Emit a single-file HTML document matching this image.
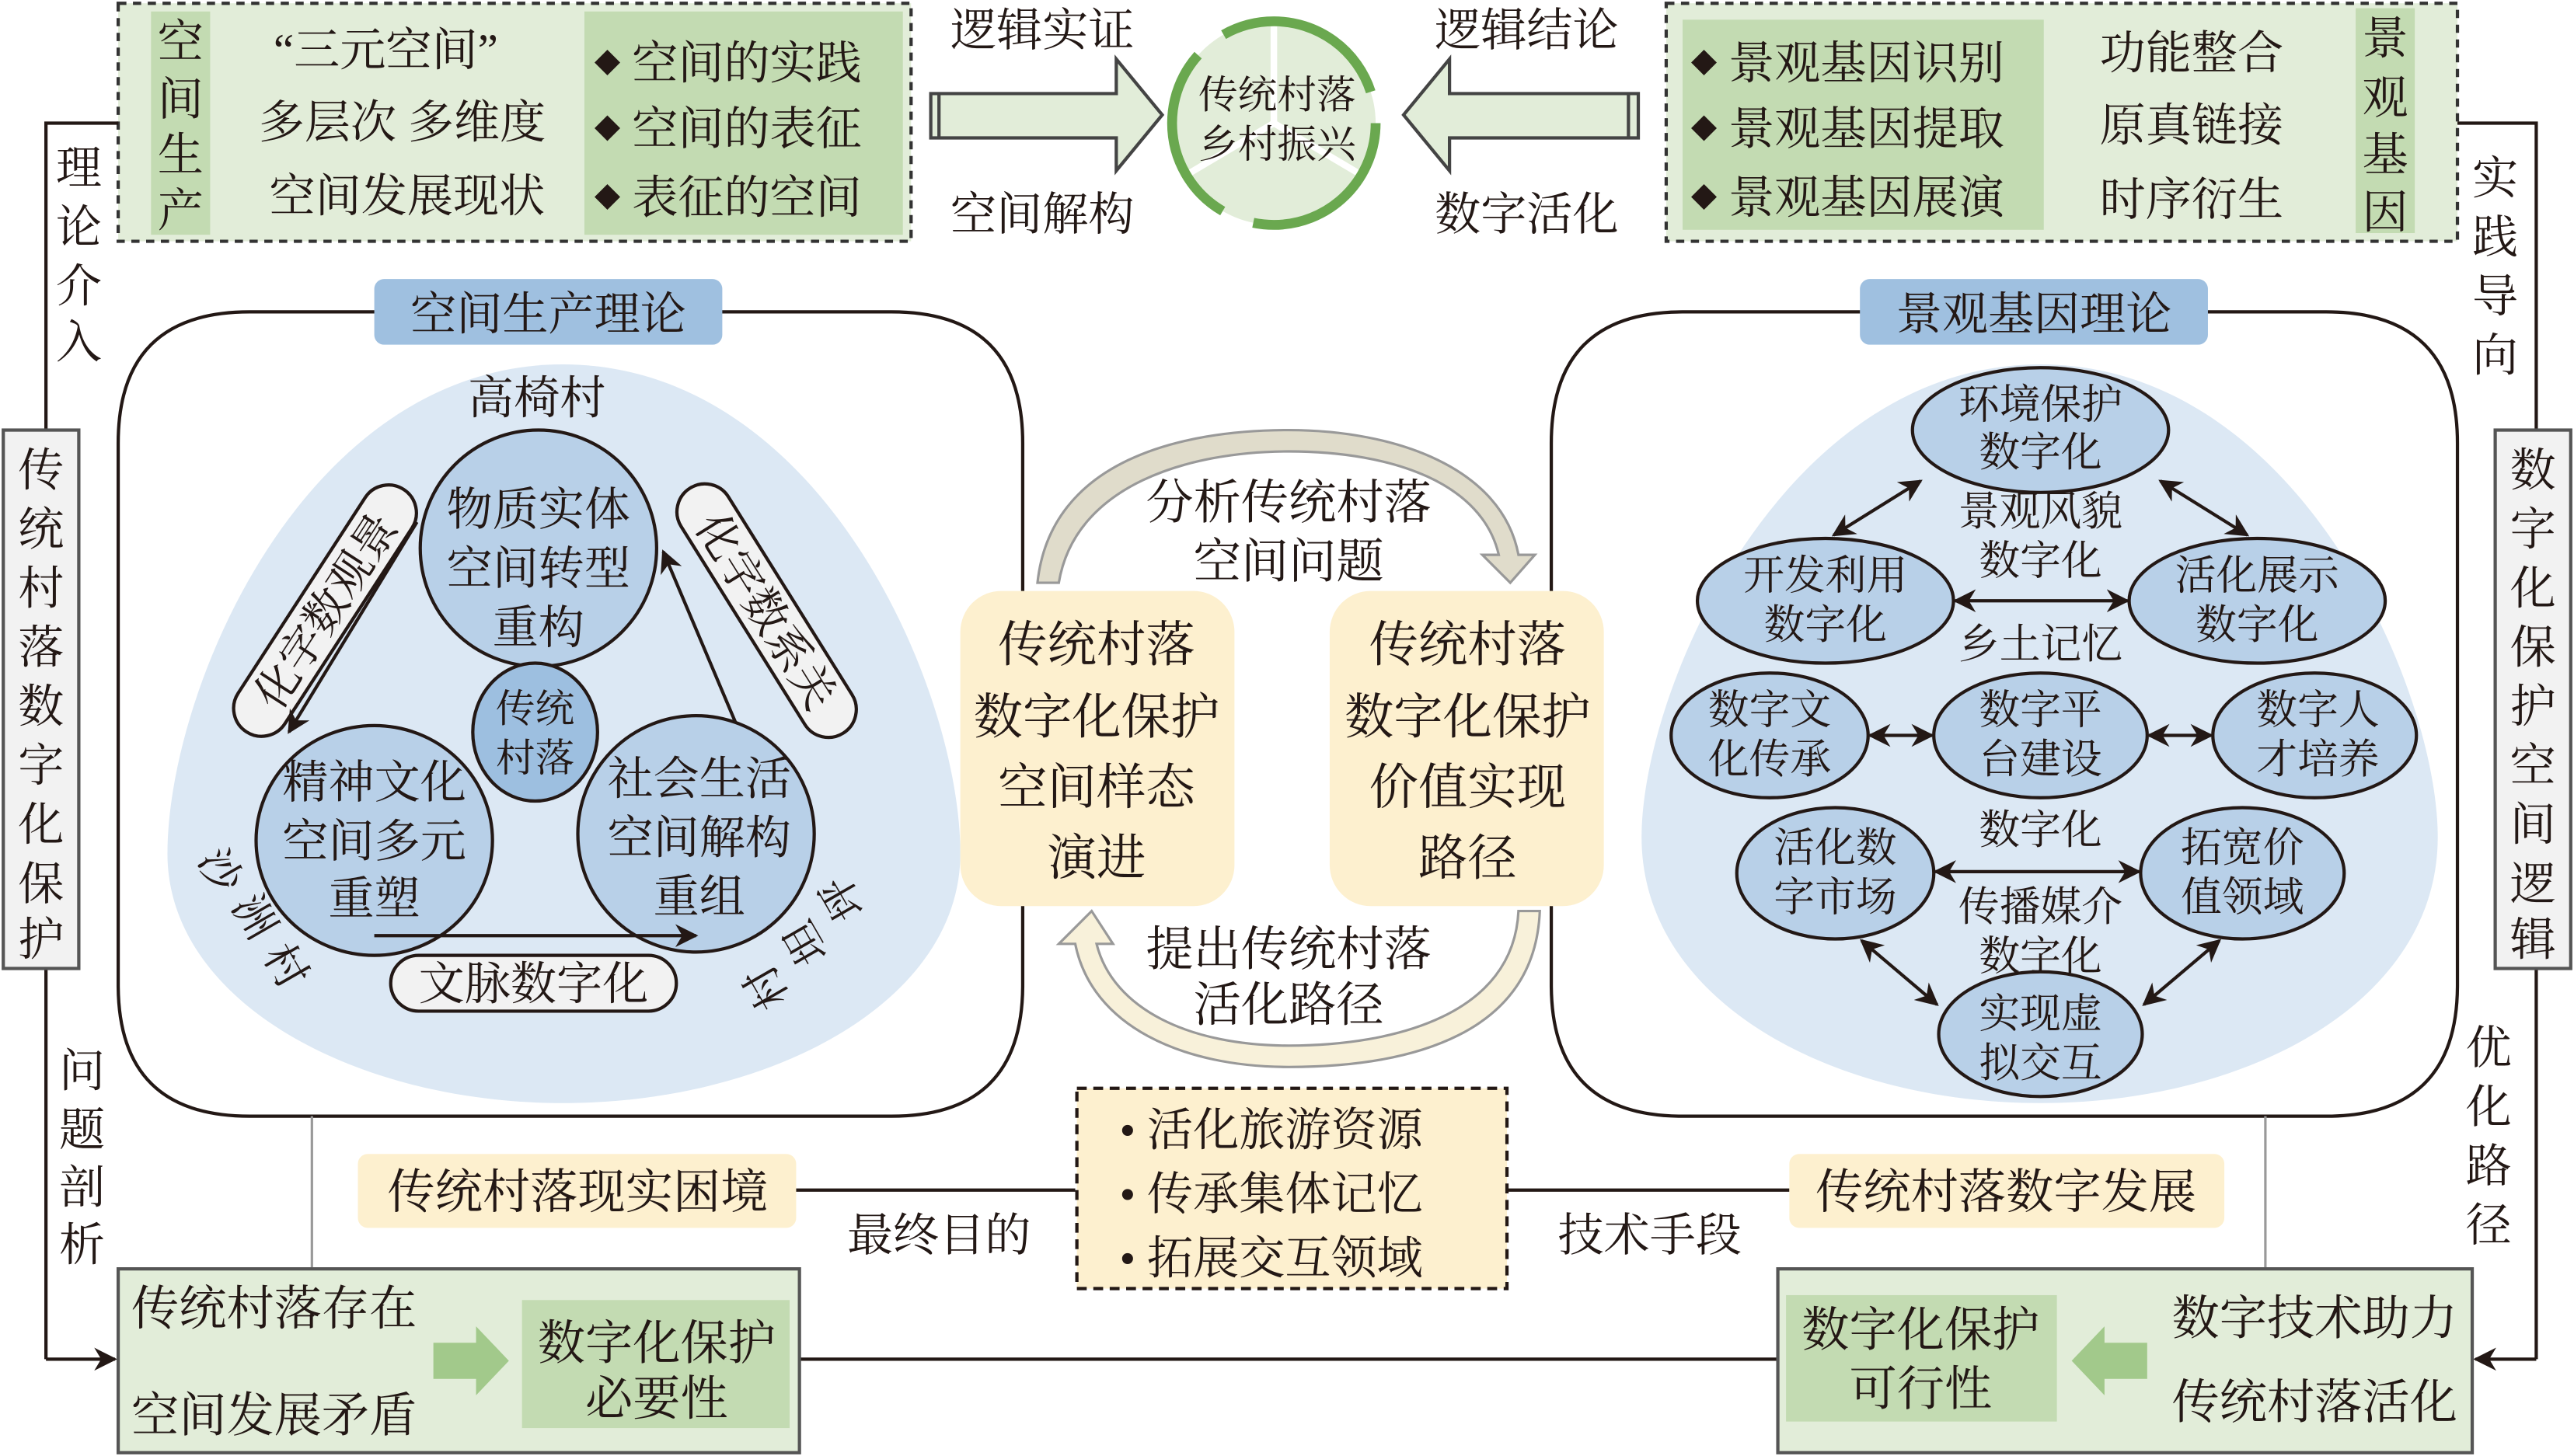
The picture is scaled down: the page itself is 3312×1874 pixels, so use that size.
<!DOCTYPE html>
<html><head><meta charset="utf-8"><style>
html,body{margin:0;padding:0;background:#fff}
svg{display:block}
text{font-family:"Liberation Serif","Noto Serif CJK SC",serif;fill:#231815}
</style></head><body>
<svg width="3312" height="1874" viewBox="0 0 1568 887" preserveAspectRatio="none" xmlns="http://www.w3.org/2000/svg">
<defs>
<marker id="ah" viewBox="0 0 10 10" refX="9" refY="5" markerWidth="7" markerHeight="7" orient="auto-start-reverse"><path d="M0,0 L10,5 L0,10 L3,5 z" fill="#231815"/></marker>
</defs>

<!-- Top-left dashed box -->
<rect x="72" y="2" width="483" height="145" fill="#e2edd9" stroke="#333" stroke-width="2" stroke-dasharray="5,4"/>
<rect x="92" y="7" width="36" height="136" fill="#c3dbb2"/>
<rect x="356" y="7" width="194" height="136" fill="#c3dbb2"/>
<g font-size="28" text-anchor="middle">
<text x="110" y="35">空</text><text x="110" y="70">间</text><text x="110" y="104">生</text><text x="110" y="138">产</text>
<text x="235" y="40">“三元空间”</text>
<text x="245" y="84">多层次 多维度</text>
<text x="248" y="129">空间发展现状</text>
</g>
<g font-size="28">
<text x="362" y="48"><tspan font-size="16" dy="-4">◆</tspan><tspan dy="4"> 空间的实践</tspan></text>
<text x="362" y="88"><tspan font-size="16" dy="-4">◆</tspan><tspan dy="4"> 空间的表征</tspan></text>
<text x="362" y="130"><tspan font-size="16" dy="-4">◆</tspan><tspan dy="4"> 表征的空间</tspan></text>
</g>

<!-- arrows top -->
<path d="M567,57 L680,57 L680,36 L708,70 L680,104 L680,84 L567,84 Z" fill="#e2edd9" stroke="#444" stroke-width="2"/>
<line x1="572" y1="57" x2="572" y2="84" stroke="#444" stroke-width="2"/>
<path d="M998,57 L883,57 L883,36 L855,70 L883,104 L883,84 L998,84 Z" fill="#e2edd9" stroke="#444" stroke-width="2"/>
<line x1="992" y1="57" x2="992" y2="84" stroke="#444" stroke-width="2"/>
<g font-size="28" text-anchor="middle">
<text x="635" y="28">逻辑实证</text>
<text x="635" y="140">空间解构</text>
<text x="930" y="28">逻辑结论</text>
<text x="930" y="140">数字活化</text>
</g>
<!-- center circle -->
<circle cx="776" cy="75" r="62" fill="#e2edd9"/>
<g stroke="#fff" stroke-width="4"><line x1="776" y1="75" x2="776" y2="12"/><line x1="776" y1="75" x2="722" y2="107"/><line x1="776" y1="75" x2="830" y2="107"/></g>
<circle cx="776" cy="75" r="62" fill="none" stroke="#6aa84f" stroke-width="6" stroke-dasharray="110,20"/>
<g font-size="24" text-anchor="middle">
<text x="778" y="66">传统村落</text>
<text x="778" y="96">乡村振兴</text>
</g>

<!-- Top-right dashed box -->
<rect x="1015" y="2" width="482" height="145" fill="#e2edd9" stroke="#333" stroke-width="2" stroke-dasharray="5,4"/>
<rect x="1025" y="12" width="220" height="128" fill="#c3dbb2"/>
<rect x="1435" y="5" width="36" height="137" fill="#c3dbb2"/>
<g font-size="28">
<text x="1030" y="48"><tspan font-size="16" dy="-4">◆</tspan><tspan dy="4"> 景观基因识别</tspan></text>
<text x="1030" y="88"><tspan font-size="16" dy="-4">◆</tspan><tspan dy="4"> 景观基因提取</tspan></text>
<text x="1030" y="130"><tspan font-size="16" dy="-4">◆</tspan><tspan dy="4"> 景观基因展演</tspan></text>
</g>
<g font-size="28" text-anchor="middle">
<text x="1335" y="42">功能整合</text>
<text x="1335" y="86">原真链接</text>
<text x="1335" y="131">时序衍生</text>
<text x="1453" y="33">景</text><text x="1453" y="69">观</text><text x="1453" y="104">基</text><text x="1453" y="139">因</text>
</g>

<!-- left side -->
<polyline points="72,75 28,75 28,262" fill="none" stroke="#231815" stroke-width="2"/>
<line x1="28" y1="590" x2="28" y2="828" stroke="#231815" stroke-width="2"/>
<line x1="28" y1="828" x2="70" y2="828" stroke="#231815" stroke-width="2" marker-end="url(#ah)"/>
<rect x="2" y="262" width="46" height="328" fill="#f2f2f2" stroke="#555" stroke-width="2"/>
<g font-size="28" text-anchor="middle">
<text x="48" y="112">理</text><text x="48" y="148">论</text><text x="48" y="184">介</text><text x="48" y="218">入</text>
<text x="25" y="296">传</text><text x="25" y="332">统</text><text x="25" y="368">村</text><text x="25" y="404">落</text><text x="25" y="440">数</text><text x="25" y="476">字</text><text x="25" y="512">化</text><text x="25" y="548">保</text><text x="25" y="582">护</text>
<text x="50" y="662">问</text><text x="50" y="698">题</text><text x="50" y="733">剖</text><text x="50" y="768">析</text>
</g>
<!-- right side -->
<polyline points="1497,75 1545,75 1545,262" fill="none" stroke="#231815" stroke-width="2"/>
<line x1="1545" y1="590" x2="1545" y2="828" stroke="#231815" stroke-width="2"/>
<line x1="1545" y1="828" x2="1508" y2="828" stroke="#231815" stroke-width="2" marker-end="url(#ah)"/>
<rect x="1520" y="262" width="46" height="328" fill="#f2f2f2" stroke="#555" stroke-width="2"/>
<g font-size="28" text-anchor="middle">
<text x="1520" y="118">实</text><text x="1520" y="154">践</text><text x="1520" y="190">导</text><text x="1520" y="226">向</text>
<text x="1543" y="296">数</text><text x="1543" y="332">字</text><text x="1543" y="368">化</text><text x="1543" y="404">保</text><text x="1543" y="440">护</text><text x="1543" y="476">空</text><text x="1543" y="512">间</text><text x="1543" y="548">逻</text><text x="1543" y="582">辑</text>
<text x="1516" y="648">优</text><text x="1516" y="684">化</text><text x="1516" y="720">路</text><text x="1516" y="756">径</text>
</g>

<!-- Big box outlines (drawn first) -->
<path d="M152,190 L543,190 Q623,190 623,270 L623,600 Q623,680 543,680 L152,680 Q72,680 72,600 L72,270 Q72,190 152,190 Z" fill="#fff" stroke="#231815" stroke-width="2"/>
<path d="M1025,190 L1417,190 Q1497,190 1497,270 L1497,600 Q1497,680 1417,680 L1025,680 Q945,680 945,600 L945,270 Q945,190 1025,190 Z" fill="#fff" stroke="#231815" stroke-width="2"/>

<!-- Left big box content -->
<path d="M343,222 C500,222 585,420 585,520 C585,610 470,672 343,672 C216,672 102,610 102,520 C102,420 186,222 343,222 Z" fill="#dce8f4"/>
<rect x="228" y="170" width="212" height="40" rx="6" fill="#9fc0e0"/>
<text x="334" y="201" font-size="28" text-anchor="middle">空间生产理论</text>
<text x="327" y="252" font-size="28" text-anchor="middle">高椅村</text>
<g fill="#b8d0e8" stroke="#231815" stroke-width="2">
<ellipse cx="328" cy="334" rx="72" ry="72"/>
<ellipse cx="228" cy="512" rx="72" ry="70"/>
<ellipse cx="424" cy="508" rx="72" ry="72"/>
</g>
<ellipse cx="326" cy="446" rx="38" ry="42" fill="#9dbfe0" stroke="#231815" stroke-width="2"/>
<g font-size="28" text-anchor="middle">
<text x="328" y="320">物质实体</text><text x="328" y="356">空间转型</text><text x="328" y="392">重构</text>
<text x="228" y="486">精神文化</text><text x="228" y="522">空间多元</text><text x="228" y="557">重塑</text>
<text x="426" y="484">社会生活</text><text x="426" y="520">空间解构</text><text x="426" y="556">重组</text>
</g>
<g font-size="24" text-anchor="middle"><text x="326" y="440">传统</text><text x="326" y="470">村落</text></g>
<g transform="translate(198,372) rotate(-57)"><rect x="-88" y="-17" width="176" height="34" rx="17" fill="#f2f2f2" stroke="#231815" stroke-width="2"/><text x="0" y="10" font-size="27" text-anchor="middle">化字数观景</text></g>
<g transform="translate(467,372) rotate(58)"><rect x="-88" y="-17" width="176" height="34" rx="17" fill="#f2f2f2" stroke="#231815" stroke-width="2"/><text x="0" y="10" font-size="27" text-anchor="middle">化字数系关</text></g>
<rect x="238" y="582" width="174" height="34" rx="17" fill="#f2f2f2" stroke="#231815" stroke-width="2"/>
<text x="325" y="609" font-size="28" text-anchor="middle">文脉数字化</text>
<line x1="254" y1="318" x2="176" y2="446" stroke="#231815" stroke-width="2" marker-end="url(#ah)"/>
<line x1="448" y1="440" x2="404" y2="336" stroke="#231815" stroke-width="2" marker-end="url(#ah)"/>
<line x1="228" y1="570" x2="424" y2="570" stroke="#231815" stroke-width="2" marker-end="url(#ah)"/>
<g font-size="26" text-anchor="middle">
<text x="135" y="540" transform="rotate(60 135 530)">沙</text>
<text x="156" y="568" transform="rotate(60 156 558)">洲</text>
<text x="175" y="598" transform="rotate(60 175 588)">村</text>
<text x="512" y="558" transform="rotate(-120 512 548)">坪</text>
<text x="490" y="585" transform="rotate(-120 490 575)">坦</text>
<text x="466" y="612" transform="rotate(-120 466 602)">村</text>
</g>

<!-- Right big box content -->
<path d="M1243,222 C1400,222 1485,420 1485,510 C1485,610 1370,672 1243,672 C1116,672 1000,610 1000,510 C1000,420 1086,222 1243,222 Z" fill="#dce8f4"/>
<rect x="1133" y="170" width="212" height="40" rx="6" fill="#9fc0e0"/>
<text x="1239" y="201" font-size="28" text-anchor="middle">景观基因理论</text>
<g fill="#b8d0e8" stroke="#231815" stroke-width="2">
<ellipse cx="1243" cy="262" rx="78" ry="38"/>
<ellipse cx="1112" cy="366" rx="78" ry="38"/>
<ellipse cx="1375" cy="366" rx="78" ry="38"/>
<ellipse cx="1078" cy="448" rx="60" ry="38"/>
<ellipse cx="1243" cy="448" rx="65" ry="38"/>
<ellipse cx="1410" cy="448" rx="62" ry="38"/>
<ellipse cx="1118" cy="532" rx="60" ry="40"/>
<ellipse cx="1366" cy="532" rx="62" ry="40"/>
<ellipse cx="1243" cy="630" rx="62" ry="38"/>
</g>
<g font-size="25" text-anchor="middle">
<text x="1243" y="255">环境保护</text><text x="1243" y="284">数字化</text>
<text x="1112" y="359">开发利用</text><text x="1112" y="389">数字化</text>
<text x="1375" y="359">活化展示</text><text x="1375" y="389">数字化</text>
<text x="1078" y="441">数字文</text><text x="1078" y="471">化传承</text>
<text x="1243" y="441">数字平</text><text x="1243" y="471">台建设</text>
<text x="1412" y="441">数字人</text><text x="1412" y="471">才培养</text>
<text x="1118" y="525">活化数</text><text x="1118" y="555">字市场</text>
<text x="1366" y="525">拓宽价</text><text x="1366" y="555">值领域</text>
<text x="1243" y="626">实现虚</text><text x="1243" y="656">拟交互</text>
<text x="1243" y="320">景观风貌</text><text x="1243" y="350">数字化</text>
<text x="1243" y="401">乡土记忆</text>
<text x="1243" y="514">数字化</text><text x="1243" y="561">传播媒介</text><text x="1243" y="591">数字化</text>
</g>
<g stroke="#231815" stroke-width="2" marker-start="url(#ah)" marker-end="url(#ah)">
<line x1="1170" y1="293" x2="1117" y2="326"/>
<line x1="1316" y1="293" x2="1369" y2="326"/>
<line x1="1191" y1="366" x2="1296" y2="366"/>
<line x1="1139" y1="448" x2="1177" y2="448"/>
<line x1="1309" y1="448" x2="1347" y2="448"/>
<line x1="1179" y1="531" x2="1303" y2="531"/>
<line x1="1134" y1="573" x2="1180" y2="612"/>
<line x1="1352" y1="573" x2="1306" y2="612"/>
</g>

<!-- center cycle (drawn on top) -->
<path d="M632,355 C640,280 720,262 785,262 C850,262 915,285 925,338 L935,338 L920,355 L903,338 L913,338 C903,295 850,275 785,275 C725,275 655,295 645,355 Z" fill="#e0dccb" stroke="#999" stroke-width="1.5"/>
<path d="M938,555 C935,630 860,650 785,650 C720,650 665,625 655,575 L645,575 L665,555 L678,575 L668,575 C678,615 725,637 785,637 C850,637 922,618 925,555 Z" fill="#f8f1da" stroke="#999" stroke-width="1.5"/>
<g font-size="29" text-anchor="middle">
<text x="785" y="316">分析传统村落</text><text x="785" y="352">空间问题</text>
<text x="785" y="588">提出传统村落</text><text x="785" y="622">活化路径</text>
</g>
<rect x="585" y="360" width="167" height="192" rx="25" fill="#fdf0cf"/>
<rect x="810" y="360" width="167" height="192" rx="25" fill="#fdf0cf"/>
<g font-size="30" text-anchor="middle">
<text x="668" y="403">传统村落</text><text x="668" y="447">数字化保护</text><text x="668" y="490">空间样态</text><text x="668" y="533">演进</text>
<text x="894" y="403">传统村落</text><text x="894" y="447">数字化保护</text><text x="894" y="490">价值实现</text><text x="894" y="533">路径</text>
</g>

<!-- bottom -->
<line x1="190" y1="680" x2="190" y2="772" stroke="#999" stroke-width="1.5"/>
<line x1="1380" y1="680" x2="1380" y2="772" stroke="#999" stroke-width="1.5"/>
<rect x="218" y="703" width="267" height="45" rx="6" fill="#fdf0cf"/>
<text x="352" y="736" font-size="29" text-anchor="middle">传统村落现实困境</text>
<line x1="485" y1="725" x2="655" y2="725" stroke="#231815" stroke-width="2"/>
<text x="572" y="762" font-size="28" text-anchor="middle">最终目的</text>
<rect x="656" y="663" width="262" height="122" fill="#fdf0cf" stroke="#231815" stroke-width="2" stroke-dasharray="6,4"/>
<g font-size="28"><text x="682" y="698">• 活化旅游资源</text><text x="682" y="737">• 传承集体记忆</text><text x="682" y="776">• 拓展交互领域</text></g>
<line x1="918" y1="725" x2="1090" y2="725" stroke="#231815" stroke-width="2"/>
<text x="1005" y="762" font-size="28" text-anchor="middle">技术手段</text>
<rect x="1090" y="703" width="265" height="45" rx="6" fill="#fdf0cf"/>
<text x="1222" y="736" font-size="29" text-anchor="middle">传统村落数字发展</text>

<line x1="487" y1="828" x2="1083" y2="828" stroke="#231815" stroke-width="2"/>
<rect x="72" y="773" width="415" height="112" fill="#e2edd9" stroke="#555" stroke-width="2"/>
<rect x="318" y="792" width="163" height="78" fill="#c3dbb2"/>
<path d="M264,818 L290,818 L290,808 L310,829 L290,850 L290,840 L264,840 Z" fill="#a2c98b"/>
<g font-size="29">
<text x="80" y="807">传统村落存在</text>
<text x="80" y="872">空间发展矛盾</text>
</g>
<g font-size="29" text-anchor="middle"><text x="400" y="828">数字化保护</text><text x="400" y="862">必要性</text></g>

<rect x="1083" y="773" width="423" height="112" fill="#e2edd9" stroke="#555" stroke-width="2"/>
<rect x="1088" y="789" width="165" height="77" fill="#c3dbb2"/>
<path d="M1308,818 L1282,818 L1282,808 L1262,829 L1282,850 L1282,840 L1308,840 Z" fill="#a2c98b"/>
<g font-size="29" text-anchor="middle">
<text x="1170" y="820">数字化保护</text><text x="1170" y="856">可行性</text>
<text x="1410" y="813">数字技术助力</text><text x="1410" y="864">传统村落活化</text>
</g>
</svg>
</body></html>
